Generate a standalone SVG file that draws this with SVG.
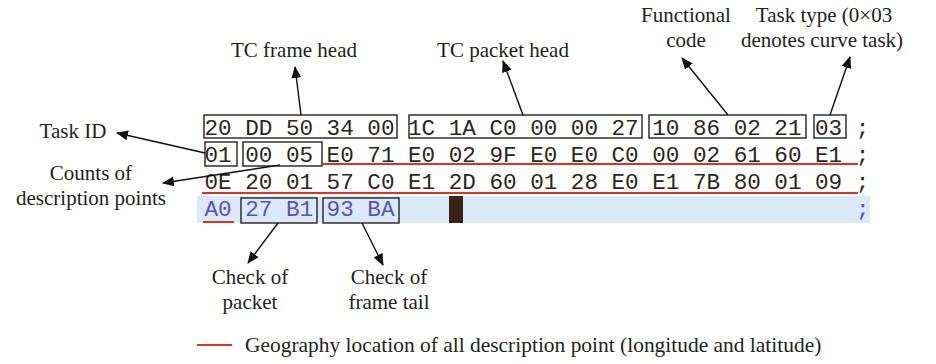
<svg xmlns="http://www.w3.org/2000/svg" width="936" height="364" viewBox="0 0 936 364">
<style>
.hex{font-family:"Liberation Mono","Courier New",monospace;font-size:22.62px;fill:#2b2622}
.hex4{font-family:"Liberation Mono","Courier New",monospace;font-size:22.62px;fill:#5a50c4}
.lbl{font-family:"Liberation Serif","Times New Roman",serif;font-size:21px;fill:#231f20}
.box{fill:none;stroke:#222;stroke-width:1.4}
.red{stroke:#e0301e;stroke-width:2;fill:none}
.arr{stroke:#111;stroke-width:1.4;fill:none;marker-end:url(#ah)}
</style>
<defs>
<marker id="ah" viewBox="0 0 12 10" refX="11" refY="5" markerWidth="12" markerHeight="10" markerUnits="userSpaceOnUse" orient="auto">
<path d="M0,0 L12,5 L0,10 Z" fill="#111"/>
</marker>
</defs>
<rect width="936" height="364" fill="#fff"/>

<g id="hexdump">
<rect x="197" y="196" width="673" height="27" fill="#dbe9f6"/>
<rect x="449" y="196" width="14" height="27" fill="#3a2218"/>
<text class="hex" x="204.5" y="135" xml:space="preserve">20 DD 50 34 00 1C 1A C0 00 00 27 10 86 02 21 03 ;</text>
<text class="hex" x="204.5" y="162" xml:space="preserve">01 00 05 E0 71 E0 02 9F E0 E0 C0 00 02 61 60 E1 ;</text>
<text class="hex" x="204.5" y="189" xml:space="preserve">0E 20 01 57 C0 E1 2D 60 01 28 E0 E1 7B 80 01 09 ;</text>
<text class="hex4" x="204.5" y="216" xml:space="preserve">A0 27 B1 93 BA</text>
<text class="hex4" x="855.9" y="216">;</text>
<line class="red" x1="323" y1="164" x2="858" y2="164"/>
<line class="red" x1="202" y1="193" x2="858" y2="193"/>
<line class="red" x1="203" y1="222" x2="234" y2="222"/>
</g>

<g id="tc-frame-head">
<rect class="box" x="204" y="115" width="193" height="23"/>
<text class="lbl" x="294" y="57" text-anchor="middle">TC frame head</text>
</g>
<g id="tc-packet-head">
<rect class="box" x="409" y="115" width="233" height="23"/>
<text class="lbl" x="503" y="57" text-anchor="middle">TC packet head</text>
</g>
<g id="functional-code">
<rect class="box" x="649" y="115" width="157" height="23"/>
<text class="lbl" x="686" y="22" text-anchor="middle">Functional</text>
<text class="lbl" x="686" y="47" text-anchor="middle">code</text>
</g>
<g id="task-type">
<rect class="box" x="814" y="115" width="32" height="23"/>
<text class="lbl" x="824" y="22" text-anchor="middle">Task type (0×03</text>
<text class="lbl" x="822" y="47" text-anchor="middle">denotes curve task)</text>
</g>
<g id="task-id">
<rect class="box" x="205" y="142" width="32" height="24"/>
<text class="lbl" x="73" y="138" text-anchor="middle">Task ID</text>
</g>
<g id="counts">
<rect class="box" x="243" y="142" width="79" height="24"/>
<text class="lbl" x="91" y="180" text-anchor="middle">Counts of</text>
<text class="lbl" x="91" y="205" text-anchor="middle">description points</text>
</g>
<g id="check-packet">
<rect class="box" x="241" y="198" width="76" height="25"/>
<text class="lbl" x="250" y="284" text-anchor="middle">Check of</text>
<text class="lbl" x="250" y="309" text-anchor="middle">packet</text>
</g>
<g id="check-frame-tail">
<rect class="box" x="323" y="198" width="76" height="25"/>
<text class="lbl" x="389" y="284" text-anchor="middle">Check of</text>
<text class="lbl" x="389" y="309" text-anchor="middle">frame tail</text>
</g>

<g id="connectors">
<line class="arr" x1="301" y1="115" x2="295" y2="67"/>
<line class="arr" x1="523" y1="115" x2="503" y2="61"/>
<line class="arr" x1="728" y1="115" x2="682" y2="58"/>
<line class="arr" x1="830" y1="115" x2="850" y2="57"/>
<line class="arr" x1="205" y1="153" x2="117" y2="133"/>
<line class="arr" x1="280" y1="165" x2="163" y2="183"/>
<line class="arr" x1="278" y1="223" x2="248" y2="263"/>
<line class="arr" x1="362" y1="223" x2="383" y2="265"/>
</g>

<g id="legend">
<line class="red" x1="197" y1="345" x2="232" y2="345"/>
<text class="lbl" x="245" y="352" style="font-size:21.45px">Geography location of all description point (longitude and latitude)</text>
</g>
</svg>
